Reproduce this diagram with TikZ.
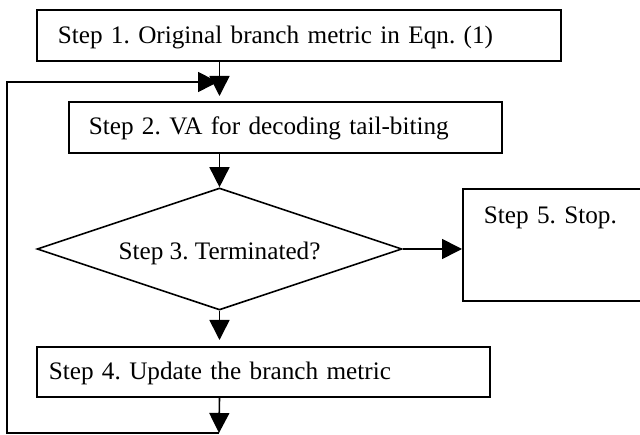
\documentclass[tikz,border=0pt]{standalone}
\usepackage{fontspec}
\setmainfont{Liberation Serif}
\usetikzlibrary{arrows.meta,shapes.geometric}
\begin{document}
\begin{tikzpicture}[x=1pt,y=-1pt,
  every node/.style={font=\fontsize{25.2pt}{30pt}\selectfont\frenchspacing},
  ln/.style={line width=1.6pt},
  stepbox/.style={ln,draw,rectangle,inner ysep=0pt,align=left},
  arr/.style={ln,-{Triangle[length=20pt,width=20pt]}}]
\useasboundingbox (0,0) rectangle (640,435);
\clip (0,0) rectangle (640,435);
% boxes
\node[stepbox,anchor=north west,minimum width=524pt,minimum height=51pt,
  inner xsep=21pt,text width=482pt,text height=17pt,text depth=0pt]
  (b1) at (36,9) {Step 1. Original branch metric in Eqn. (1)};
\node[stepbox,anchor=north west,minimum width=433pt,minimum height=51pt,
  inner xsep=20pt,text width=393pt,text height=15pt,text depth=0pt]
  (b2) at (68,101) {Step 2. VA for decoding tail-biting};
\node[ln,draw,diamond,aspect=3,inner sep=0pt,minimum width=365pt,minimum height=122pt,
  text height=22pt,text depth=0pt]
  (d) at (219.5,249) {Step 3. Terminated?};
\node[stepbox,anchor=north west,minimum width=453pt,minimum height=50pt,
  inner xsep=12pt,text width=429pt,text height=15pt,text depth=0pt]
  (b4) at (36,346) {Step 4. Update the branch metric};
\node[stepbox,anchor=north west,minimum width=240pt,minimum height=112pt,
  inner xsep=21pt,text width=198pt,text height=17pt,text depth=59pt]
  (b5) at (462,188) {Step 5. Stop.};
% loop coordinates
\coordinate (lb) at (219,433);
\coordinate (lbl) at (7,433);
\coordinate (ltl) at (7,82);
\coordinate (lt) at (218,82);
% connectors
\draw[arr] (b1.south -| d.north) -- ([yshift=5pt]b2.north -| d.north);
\draw[arr] (b2.south -| d.north) -- (d.north);
\draw[arr] (d.east) -- (d.east -| b5.west);
\draw[arr] (d.south) -- ([yshift=6pt]b4.north -| d.south);
\draw[arr] (b4.south -| d.south) -- (lb);
\draw[arr] (lb) -- (lbl) -- (ltl) -- (lt);
\end{tikzpicture}
\end{document}
